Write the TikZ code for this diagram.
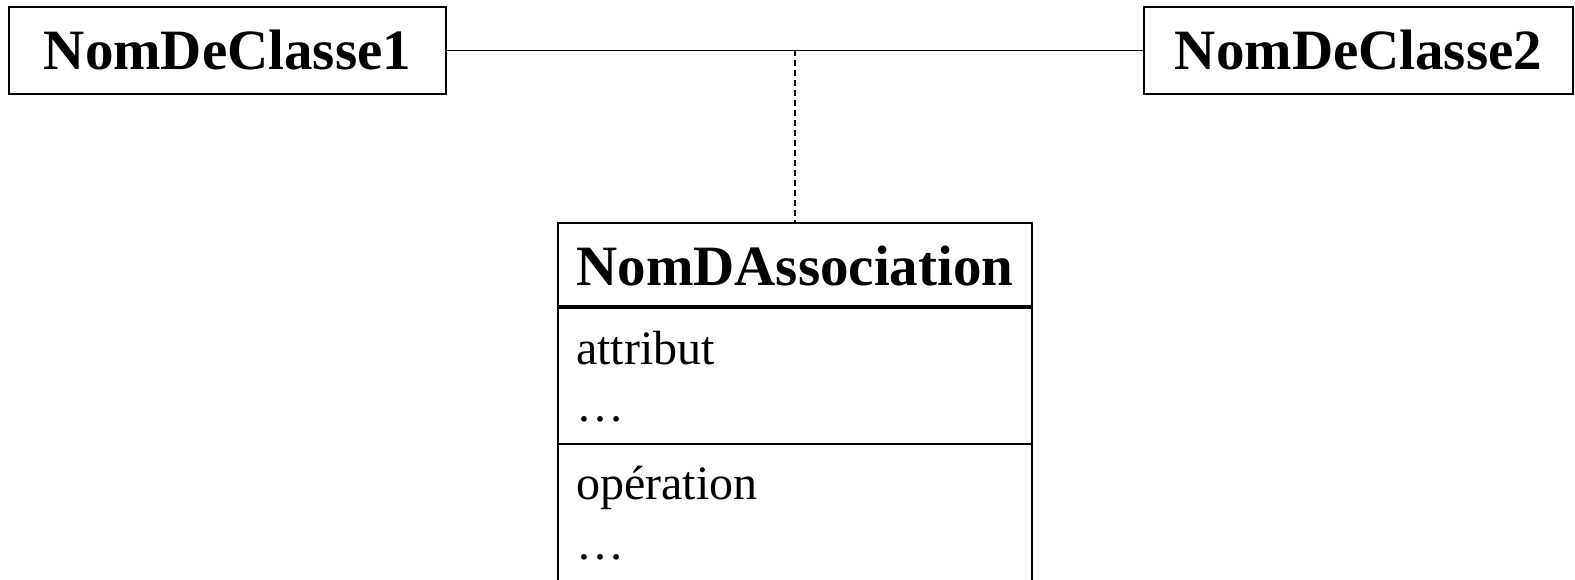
\documentclass[tikz,border=0pt]{standalone}
\usepackage{fontspec}
\setmainfont{Liberation Serif}
\usetikzlibrary{positioning,calc}
\tikzset{
  classe/.style={draw,line width=1.6pt,inner sep=0pt,
                 font=\fontsize{57}{61}\selectfont\bfseries},
  membre/.style={anchor=base west,inner sep=0pt,
                 font=\fontsize{48}{57}\selectfont},
  lien/.style={line width=1.4pt},
}
\begin{document}
\begin{tikzpicture}[x=1pt,y=1pt]
        \useasboundingbox (0,0) rectangle (1575,-580);
        % Classes
        \node[classe,minimum width=437,minimum height=87] (classe1)
          at (227.5,-50.5) {NomDeClasse1};
        \node[classe,minimum width=429,minimum height=87] (classe2)
          at (1358.5,-50.5) {NomDeClasse2};
        % Association
        \draw[lien] (classe1) -- (classe2) coordinate[midway] (milieu);
        % Classe d'association
        \node[draw,line width=1.6pt,minimum width=474,minimum height=359,
          anchor=north] (assoc) at (795,-222) {};
        \node[classe,draw=none,anchor=base] (assocNom) at (795,-286)
          {NomDAssociation};
        \draw[line width=3.5pt] ($(assoc.north west)+(0,-85)$)
          -- ($(assoc.north east)+(0,-85)$);
        \draw[line width=1.6pt] ($(assoc.north west)+(0,-222)$)
          -- ($(assoc.north east)+(0,-222)$);
        \node[membre] (attribut) at (576,-364) {attribut};
        \node[membre] (attributSuite) at (576,-421) {…};
        \node[membre] (operation) at (576,-499) {opération};
        \node[membre] (operationSuite) at (576,-559) {…};
        % Lien pointille
        \draw[lien,dash pattern=on 6pt off 4pt] (milieu) -- (assoc.north);
      \end{tikzpicture}
\end{document}
